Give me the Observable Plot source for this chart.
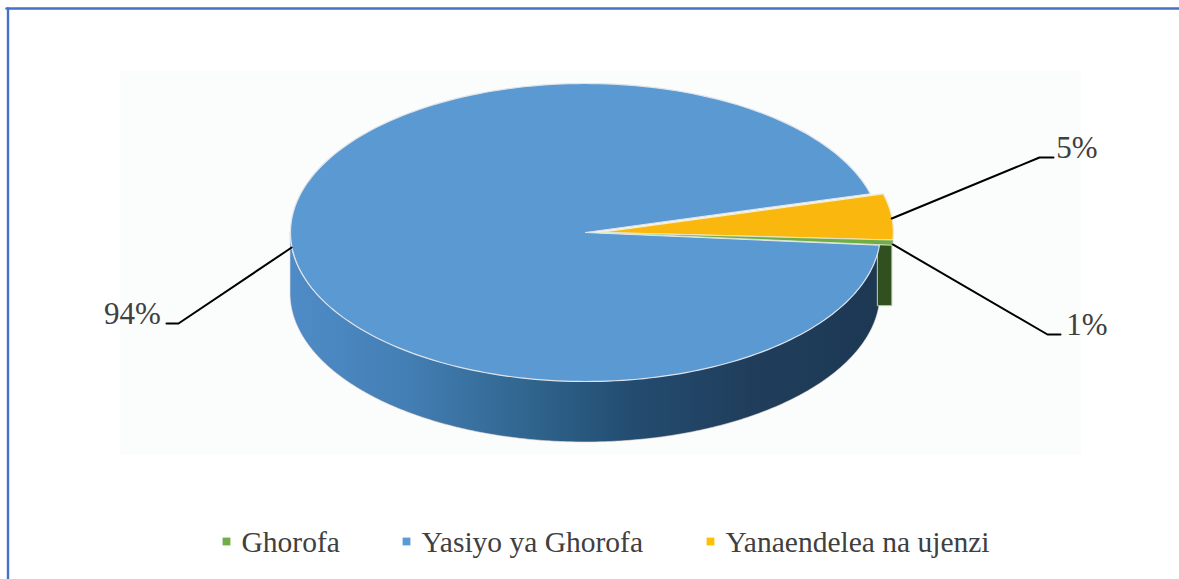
<!DOCTYPE html>
<html>
<head>
<meta charset="utf-8">
<script src="https://cdn.jsdelivr.net/npm/d3@7"></script>
<script src="https://cdn.jsdelivr.net/npm/@observablehq/plot@0.6"></script>
<style>
  html, body { margin: 0; padding: 0; background: #fff; }
  svg { display: block; }
</style>
</head>
<body>
<div id="chart"></div>
<script>
// ---- data ----
const categories = ["Ghorofa", "Yasiyo ya Ghorofa", "Yanaendelea na ujenzi"];
const shares = [0.55, 94.45, 5];          // slice sizes as drawn
const percentLabels = ["1%", "94%", "5%"];
const sliceColors = ["#70ad47", "#5a99d2", "#fab80f"];
const legendColors = ["#70ad47", "#5b9bd5", "#ffc000"];
const sideColors = ["#31501f", null, "#b98a10"];

// ---- layout helpers (data units: ellipse radius = 1) ----
const startAngle = 4.9 - 0.55 * 3.6 ;     // degrees clockwise from east, where the first slice starts
const explode = {0: 0.044, 1: 0, 2: 0.044}; // pulled-out slices
const depth = 61 / 149;                   // wall height, in y units
const elbows = [[1047, 334, 1060], [178, 323, 166], [1039, 157, 1053]];

const rad = d => d * Math.PI / 180;
let acc = startAngle;
const slices = shares.map((v, i) => {
  const a0 = acc, a1 = acc + v * 3.6;
  acc = a1;
  return {i, a0, a1, mid: (a0 + a1) / 2, dx: explode[i], name: categories[i], color: sliceColors[i]};
});
const arc = (s, n = 240) => d3.range(n + 1).map(k => {
  const a = rad(s.a0 + (s.a1 - s.a0) * k / n);
  return {x: Math.cos(a) + s.dx, y: Math.sin(a), a};
});
const topFaces = slices.flatMap(s =>
  [{x: s.dx, y: 0}, ...arc(s), {x: s.dx, y: 0}].map(p => ({...p, key: s.name, color: s.color}))
);

// Blue wall: the visible front of the ellipse
const blue = slices[1];
const wall = arc({a0: blue.a0, a1: 180, dx: 0}, 300).map(p => ({x: p.x, y1: p.y, y2: p.y + depth}));
// Green pulled-out block showing beneath its slice
const green = slices[0];
const greenEdge = Math.cos(rad(green.a1));
const block = [
  {x: greenEdge - 0.004, y1: Math.sin(rad(green.a1)), y2: Math.sin(rad(green.a1)) + depth},
  {x: greenEdge + green.dx, y1: Math.sin(rad(green.a1)), y2: Math.sin(rad(green.a1)) + depth}
];

// Linear px positions for the x,y scales
const X = d3.scaleLinear([-1, 1], [290, 880]);
const Y = d3.scaleLinear([-1, 1], [83, 381]);

const leaders = slices.flatMap(s => {
  const a = rad(s.mid);
  const e = elbows[s.i];
  return [
    {key: s.name, x: Math.cos(a) + s.dx, y: Math.sin(a) + 0.012},
    {key: s.name, x: X.invert(e[0]), y: Y.invert(e[1])},
    {key: s.name, x: X.invert(e[2]), y: Y.invert(e[1])}
  ];
});

const pctPos = [[1086.5, 325], [132, 314], [1076.5, 148]];
const pctRows = percentLabels.map((t, i) => ({t, x: X.invert(pctPos[i][0]), y: Y.invert(pctPos[i][1])}));

const legendX = [226, 406, 710];
const legendRows = categories.map((t, i) => ({
  t, color: legendColors[i], x: X.invert(legendX[i]), tx: X.invert(legendX[i] + 15), y: Y.invert(541), ty: Y.invert(542.5)
}));

const panel = [{x1: X.invert(120), x2: X.invert(1081), y1: Y.invert(71), y2: Y.invert(455)}];
const frameTop = [{x: X.invert(6), y: Y.invert(8)}, {x: X.invert(1179), y: Y.invert(8)}];
const frameLeft = [{x: X.invert(7.5), y: Y.invert(8)}, {x: X.invert(7.5), y: Y.invert(579)}];

const defs = () => {
  const d = d3.create("svg:defs");
  const g = d.append("linearGradient").attr("id", "wallShade").attr("x1", 0).attr("x2", 1).attr("y1", 0).attr("y2", 0);
  [[0, "#4f8cc7"], [0.2, "#437eb4"], [0.4, "#30668f"], [0.58, "#234c70"], [0.78, "#203e5c"], [1, "#1c3853"]]
    .forEach(([o, c]) => g.append("stop").attr("offset", o).attr("stop-color", c));
  return d.node();
};

const serif = "'Liberation Serif', 'Times New Roman', serif";
const plot = Plot.plot({
  width: 1179,
  height: 579,
  margin: 0,
  style: {background: "#ffffff", fontFamily: serif, overflow: "hidden"},
  x: {type: "linear", domain: [X.invert(0), X.invert(1179)], range: [0, 1179], axis: null},
  y: {type: "linear", domain: [Y.invert(0), Y.invert(579)], range: [0, 579], axis: null},
  marks: [
    defs,
    Plot.rect(panel, {x1: "x1", x2: "x2", y1: "y1", y2: "y2", fill: "#fbfcfc"}),
    Plot.line(frameTop, {x: "x", y: "y", stroke: "#4472c4", strokeWidth: 2.4}),
    Plot.line(frameLeft, {x: "x", y: "y", stroke: "#4472c4", strokeWidth: 2.4}),
    // walls
    Plot.areaY(wall, {x: "x", y1: "y1", y2: "y2", fill: "url(#wallShade)", stroke: "#f0dcd6", strokeWidth: 0.6, curve: "linear"}),
    Plot.areaY(block, {x: "x", y1: "y1", y2: "y2", fill: sideColors[0], stroke: "#c9d2b8", strokeWidth: 1}),
    // tops: blue first, pulled-out slices above it
    Plot.line(topFaces.filter(d => d.key === categories[1]), {x: "x", y: "y", fill: sliceColors[1], stroke: "#dfe3ea", strokeWidth: 1.2, curve: "linear", strokeLinejoin: "round"}),
    Plot.line(topFaces.filter(d => d.key === categories[2]), {x: "x", y: "y", fill: sliceColors[2], stroke: "#f3eccf", strokeWidth: 1.4, curve: "linear", strokeLinejoin: "round"}),
    Plot.line(topFaces.filter(d => d.key === categories[0]), {x: "x", y: "y", fill: sliceColors[0], stroke: "#e5ead8", strokeWidth: 0.8, curve: "linear", strokeLinejoin: "round"}),
    // leader lines and percentages
    Plot.line(leaders, {x: "x", y: "y", z: "key", stroke: "#000", strokeWidth: 2, curve: "linear"}),
    Plot.text(pctRows, {x: "x", y: "y", text: "t", fontSize: 31, fill: "#404040", textAnchor: "middle", lineAnchor: "middle"}),
    // legend
    Plot.dot(legendRows, {x: "x", y: "y", symbol: "square", r: 4.4, fill: "color", stroke: null}),
    Plot.text(legendRows, {x: "tx", y: "ty", text: "t", fontSize: 29.5, fill: "#404040", textAnchor: "start", lineAnchor: "middle"})
  ]
});
document.getElementById("chart").append(plot);
</script>
</body>
</html>
